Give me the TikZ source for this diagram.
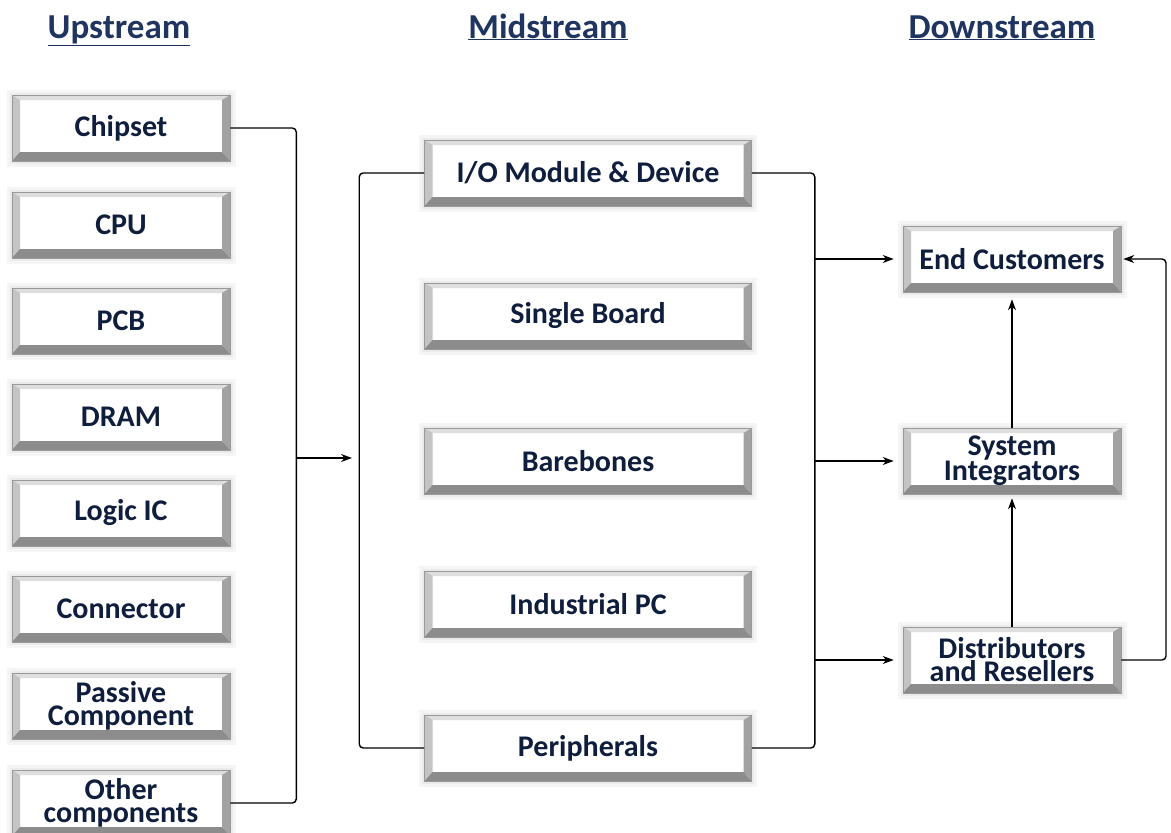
\documentclass[tikz,border=0pt]{standalone}
\usepackage{fontspec}
\setmainfont{Carlito}
\usetikzlibrary{arrows.meta,calc}
\definecolor{navy}{HTML}{0F1E3C}
\definecolor{hdr}{HTML}{1F3560}
\definecolor{bvT}{HTML}{DEDEDE}
\definecolor{bvL}{HTML}{C4C4C4}
\definecolor{bvR}{HTML}{A2A2A2}
\definecolor{bvB}{HTML}{8C8C8C}
\tikzset{
 bevbox/.style={rectangle, fill=white, draw=black!40, line width=0.6pt, inner sep=0pt, align=center, text=navy,
  font=\bfseries\fontsize{30}{23}\selectfont,
  preaction={draw=black!4, line width=11pt},
  preaction={draw=black!8, line width=5pt},
  path picture={
   \path (path picture bounding box.south west) coordinate (@sw)
         (path picture bounding box.north east) coordinate (@ne)
         (path picture bounding box.north west) coordinate (@nw)
         (path picture bounding box.south east) coordinate (@se);
   \fill[bvT] (@nw) -- (@ne) -- ($(@ne)+(-8pt,-5pt)$) -- ($(@nw)+(8pt,-5pt)$) -- cycle;
   \fill[bvL] (@nw) -- ($(@nw)+(8pt,-5pt)$) -- ($(@sw)+(8pt,9pt)$) -- (@sw) -- cycle;
   \fill[bvR] (@ne) -- ($(@ne)+(-8pt,-5pt)$) -- ($(@se)+(-8pt,9pt)$) -- (@se) -- cycle;
   \fill[bvB] (@sw) -- ($(@sw)+(8pt,9pt)$) -- ($(@se)+(-8pt,9pt)$) -- (@se) -- cycle;
  }},
 sbox/.style={bevbox, minimum width=218pt, minimum height=66pt},
 mbox/.style={bevbox, minimum width=327pt, minimum height=66pt},
 hdrtext/.style={text=hdr, anchor=base, font=\bfseries\fontsize{35}{38}\selectfont},
 conn/.style={line width=1.4pt, rounded corners=4pt},
 arr/.style={conn, -{Stealth[length=11pt,width=8pt]}},
}
\begin{document}
\begin{tikzpicture}[x=1pt,y=-1pt]
\useasboundingbox (0,0) rectangle (1171,833);
% headers
\node[hdrtext] (hu) at (119,38) {\underline{Upstream}};
\node[hdrtext] (hm) at (548,38) {\underline{Midstream}};
\node[hdrtext] (hd) at (1002,38) {\underline{Downstream}};
% upstream
\node[sbox] (chip) at (121,128) {Chipset};
\node[sbox] (cpu) at (121,225) {CPU};
\node[sbox] (pcb) at (121,321) {PCB};
\node[sbox] (dram) at (121,417) {DRAM};
\node[sbox] (logic) at (121,513) {Logic IC};
\node[sbox] (conn) at (121,609) {Connector};
\node[sbox] (pass) at (121,706) {Passive\\Component};
\node[sbox] (oth) at (121,803) {Other\\components};
% midstream
\node[mbox] (io) at (588,173) {I/O Module \& Device};
\node[mbox] (sb) at (588,316) {Single Board};
\node[mbox] (bb) at (588,461) {Barebones};
\node[mbox] (ipc) at (588,604) {Industrial PC};
\node[mbox] (per) at (588,748) {Peripherals};
% downstream
\node[sbox] (ec) at (1012,259) {End Customers};
\node[sbox] (si) at (1012,461) {System\\Integrators};
\node[sbox] (dr) at (1012,660) {Distributors\\and Resellers};
% coordinates
\coordinate (uj) at (296,458);
\coordinate (mj) at (352,458);
\coordinate (mr) at (815,0);
\coordinate (lp) at (1166,460);
% connectors
\draw[conn] (chip.east) -- ++(66,0) |- (oth.east);
\draw[arr] (uj) -- (mj);
\draw[conn] (io.west) -- ++(-65,0) |- (per.west);
\draw[conn] (io.east) -- ++(63,0) |- (per.east);
\draw[arr, shorten >=9pt] (ec.west -| mr) -- (ec.west);
\draw[arr, shorten >=9pt] (si.west -| mr) -- (si.west);
\draw[arr, shorten >=9pt] (dr.west -| mr) -- (dr.west);
\draw[arr, shorten >=4pt] (dr.north) -- (si.south);
\draw[arr, shorten >=7pt] (si.north) -- (ec.south);
\draw[arr, shorten >=2pt] (dr.east) -| (lp) |- (ec.east);
\end{tikzpicture}
\end{document}
